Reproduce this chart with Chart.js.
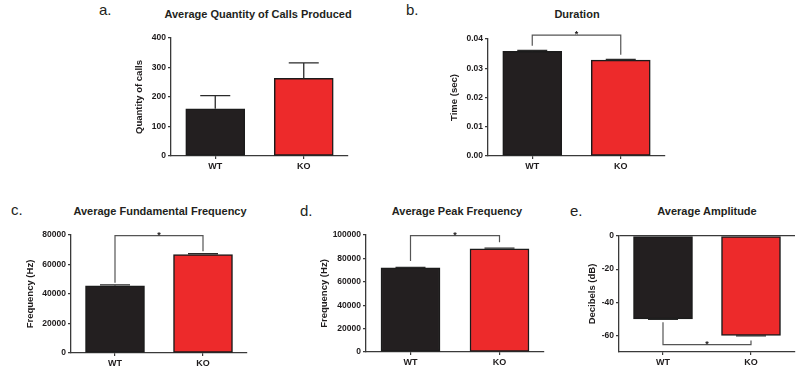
<!DOCTYPE html>
<html>
<head>
<meta charset="utf-8">
<script src="https://cdn.jsdelivr.net/npm/chart.js@4"></script>
<style>
  body { margin: 0; width: 800px; height: 370px; position: relative; overflow: hidden; background: #fff;
         font-family: 'Liberation Sans', Arial, sans-serif; color: #231f20; }
  .ttl { position: absolute; font-size: 11px; font-weight: bold; line-height: 1; white-space: nowrap; transform: translate(-50%, -50%); }
  .let { position: absolute; font-size: 15px; line-height: 1; }
  canvas { position: absolute; }
</style>
</head>
<body>
<div class="let" style="left:99px;top:2px">a.</div>
<div class="let" style="left:406px;top:2px">b.</div>
<div class="let" style="left:11px;top:202px">c.</div>
<div class="let" style="left:300px;top:203px">d.</div>
<div class="let" style="left:570px;top:203px">e.</div>
<div class="ttl" style="left:258px;top:14px">Average Quantity of Calls Produced</div>
<div class="ttl" style="left:577px;top:14px">Duration</div>
<div class="ttl" style="left:160px;top:211px">Average Fundamental Frequency</div>
<div class="ttl" style="left:457px;top:211px">Average Peak Frequency</div>
<div class="ttl" style="left:707px;top:211px">Average Amplitude</div>
<script>
const groups = ['WT', 'KO'];

// a. calls
const callsMean = [160, 263];
const callsErr = [45, 53];

// b. duration (sec)
const durationMean = [0.0358, 0.0328];
const durationErr = [0.0003, 0.0002];
const durationSig = [0.0377, 0.0413, 0.0346]; // left foot, bracket, right foot

// c. fundamental frequency (Hz)
const fundMean = [45600, 66800];
const fundErr = [600, 500];
const fundSig = [47600, 79600, 69000];

// d. peak frequency (Hz)
const peakMean = [72000, 88200];
const peakErr = [400, 500];
const peakSig = [77800, 99400, 93700];

// e. amplitude (dB)
const ampMean = [-50, -60];
const ampErr = [0.3, 0.3];
const ampSig = [-52, -65.5, -63];

const textCol = '#1e1b1c';
const axisCol = '#3a3a3a';
const barCols = ['#231f20', '#ed2a2b'];
Chart.defaults.font.family = "'Liberation Sans', Arial, sans-serif";
Chart.defaults.color = textCol;

const errPlugin = {
  id: 'errBars',
  afterDatasetsDraw(chart, args, opts) {
    const y = chart.scales.y;
    const vals = chart.data.datasets[0].data;
    const ctx = chart.ctx;
    ctx.save();
    ctx.strokeStyle = '#2a2a2a';
    ctx.lineWidth = 1.3;
    chart.getDatasetMeta(0).data.forEach((bar, i) => {
      const v = vals[i];
      const end = y.getPixelForValue(v + Math.sign(v) * opts.errs[i]);
      ctx.beginPath();
      ctx.moveTo(bar.x, bar.y);
      ctx.lineTo(bar.x, end);
      ctx.moveTo(bar.x - 15, end);
      ctx.lineTo(bar.x + 15, end);
      ctx.stroke();
    });
    ctx.restore();
  }
};

const sigPlugin = {
  id: 'sigBar',
  afterDatasetsDraw(chart, args, opts) {
    if (!opts.feet) return;
    const f = opts.feet;
    const x = chart.scales.x, y = chart.scales.y;
    const x0 = x.getPixelForValue(0), x1 = x.getPixelForValue(1);
    const yb = y.getPixelForValue(f[1]);
    const ctx = chart.ctx;
    ctx.save();
    ctx.strokeStyle = '#555';
    ctx.lineWidth = 1.2;
    ctx.beginPath();
    ctx.moveTo(x0, y.getPixelForValue(f[0]));
    ctx.lineTo(x0, yb);
    ctx.lineTo(x1, yb);
    ctx.lineTo(x1, y.getPixelForValue(f[2]));
    ctx.stroke();
    ctx.fillStyle = textCol;
    ctx.font = "bold 9px 'Liberation Sans', Arial, sans-serif";
    ctx.textAlign = 'center';
    ctx.textBaseline = 'alphabetic';
    ctx.fillText('*', (x0 + x1) / 2, yb + 2);
    ctx.restore();
  }
};

function makePanel(cfg) {
  const [L, T, R, B] = cfg.area;
  const yW = Math.round(L - cfg.yTitleX + 5.7);
  const padTop = 20, padRight = 10, xH = 22;
  const left = L - yW, top = T - padTop;
  const w = R + padRight - left, h = B + xH - top;
  const canvas = document.createElement('canvas');
  canvas.width = w;
  canvas.height = h;
  canvas.style.left = left + 'px';
  canvas.style.top = top + 'px';
  canvas.style.width = w + 'px';
  canvas.style.height = h + 'px';
  document.body.appendChild(canvas);

  new Chart(canvas, {
    type: 'bar',
    data: {
      labels: groups,
      datasets: [{
        data: cfg.means,
        backgroundColor: barCols,
        borderColor: '#1b1b1b',
        borderWidth: 1.5,
        borderSkipped: false,
        barThickness: 59
      }]
    },
    options: {
      responsive: false,
      animation: false,
      layout: { padding: { left: 0, top: padTop, right: padRight, bottom: 0 } },
      plugins: {
        legend: { display: false },
        tooltip: { enabled: false },
        errBars: { errs: cfg.errs },
        sigBar: { feet: cfg.sig }
      },
      scales: {
        x: {
          grid: { display: true, drawOnChartArea: false, offset: false, tickLength: 3, color: axisCol, lineWidth: 1.2 },
          border: { display: true, color: axisCol, width: 1.3 },
          ticks: { font: { size: 9, weight: 'bold' }, color: textCol, padding: 2 },
          afterFit: s => { s.height = xH; }
        },
        y: {
          min: cfg.min,
          max: cfg.max,
          ticks: { stepSize: cfg.step, font: { size: 8.5, weight: 'bold' }, color: textCol, padding: 2,
                   callback: cfg.fmt },
          grid: {
            display: true,
            drawOnChartArea: !!cfg.zeroLine,
            tickLength: 3,
            tickColor: axisCol,
            lineWidth: 1.2,
            color: c => (cfg.zeroLine && c.tick && c.tick.value === 0) ? axisCol : 'rgba(0,0,0,0)'
          },
          border: { display: true, color: axisCol, width: 1.3 },
          title: { display: true, text: cfg.yTitle, font: { size: 9.5, weight: 'bold' }, color: textCol, padding: 0 },
          afterFit: s => { s.width = yW; },
          afterBuildTicks: s => { if (cfg.zeroLine) s.ticks = s.ticks.filter(t => t.value % cfg.step === 0); }
        }
      }
    },
    plugins: [errPlugin, sigPlugin]
  });
}

makePanel({ area: [171, 38, 348, 156], yTitleX: 140, yTitle: 'Quantity of calls',
  min: 0, max: 400, step: 100, fmt: v => String(v), means: callsMean, errs: callsErr, sig: null });
makePanel({ area: [488, 39, 665, 156], yTitleX: 455, yTitle: 'Time (sec)',
  min: 0, max: 0.04, step: 0.01, fmt: v => v.toFixed(2), means: durationMean, errs: durationErr, sig: durationSig });
makePanel({ area: [71, 235, 247, 353], yTitleX: 31, yTitle: 'Frequency (Hz)',
  min: 0, max: 80000, step: 20000, fmt: v => String(v), means: fundMean, errs: fundErr, sig: fundSig });
makePanel({ area: [366, 235, 544, 352], yTitleX: 325, yTitle: 'Frequency (Hz)',
  min: 0, max: 100000, step: 20000, fmt: v => String(v), means: peakMean, errs: peakErr, sig: peakSig });
makePanel({ area: [619, 236, 795, 352], yTitleX: 593, yTitle: 'Decibels (dB)',
  min: -70, max: 0, step: 20, fmt: v => String(v), means: ampMean, errs: ampErr, sig: ampSig, zeroLine: true });
</script>
</body>
</html>
